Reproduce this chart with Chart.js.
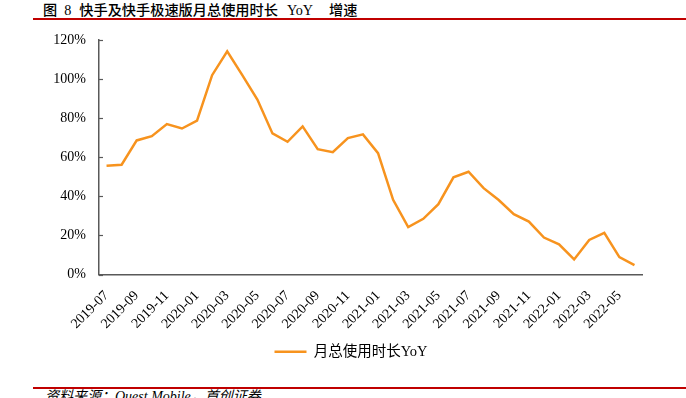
<!DOCTYPE html>
<html>
<head>
<meta charset="utf-8">
<script src="https://cdn.jsdelivr.net/npm/chart.js@4"></script>
<style>
  html, body { margin: 0; padding: 0; background: #fff; }
  body { width: 686px; height: 398px; overflow: hidden; position: relative; }
  #title { position: absolute; left: 43px; top: 1px; font-family: "Noto Sans CJK SC", sans-serif; font-weight: 500; font-size: 14.2px; line-height: 17px; color: #000; white-space: nowrap; }
  #title span { display: inline-block; }
  #title .s { font-family: "Liberation Serif", serif; font-weight: normal; }
  .rule { position: absolute; left: 33px; width: 653px; height: 2px; background: #C00000; }
  #source { position: absolute; left: 45px; top: 388px; font-family: "Liberation Serif", "Noto Sans CJK SC", serif; font-style: italic; font-size: 14px; line-height: 17px; color: #000; white-space: pre; }
  #wrap { position: absolute; left: 0; top: 0; width: 686px; height: 398px; }
</style>
</head>
<body>
<div id="title"><span style="margin-right:7px">图</span><span class="s" style="margin-right:8px">8</span><span style="margin-right:9px">快手及快手极速版月总使用时长</span><span class="s" style="margin-right:16px">YoY</span><span>增速</span></div>
<div class="rule" style="top:18px"></div>
<div class="rule" style="top:387px"></div>
<div id="source">资料来源：Quest Mobile，首创证券</div>
<div id="wrap"><canvas id="c" width="686" height="398"></canvas></div>
<script>
const months = [
  '2019-07','2019-08','2019-09','2019-10','2019-11','2019-12',
  '2020-01','2020-02','2020-03','2020-04','2020-05','2020-06',
  '2020-07','2020-08','2020-09','2020-10','2020-11','2020-12',
  '2021-01','2021-02','2021-03','2021-04','2021-05','2021-06',
  '2021-07','2021-08','2021-09','2021-10','2021-11','2021-12',
  '2022-01','2022-02','2022-03','2022-04','2022-05','2022-06'
];
const yoyValues = [
  55.7, 56.2, 68.6, 70.8, 77.0, 74.7,
  78.7, 102.0, 114.2, 102.0, 89.5, 72.2,
  67.9, 75.8, 64.1, 62.6, 69.8, 71.7,
  62.1, 38.2, 24.3, 28.5, 36.0, 49.7,
  52.6, 44.2, 38.1, 30.9, 27.1, 18.9,
  15.4, 7.7, 17.7, 21.3, 8.9, 4.8
];
const seriesName = '月总使用时长YoY';
const yTicks = [0, 20, 40, 60, 80, 100, 120];

const serif = '"Liberation Serif", "Noto Sans CJK SC", serif';
Chart.defaults.font.family = serif;
Chart.defaults.color = '#000';

const innerTicks = {
  id: 'innerTicks',
  afterDraw(chart) {
    const ys = chart.scales.y;
    const ctx = chart.ctx;
    const left = chart.chartArea.left;
    ctx.save();
    ctx.strokeStyle = '#595959';
    ctx.lineWidth = 1.2;
    ys.ticks.forEach(t => {
      const y = Math.round(ys.getPixelForValue(t.value)) + 0.5;
      ctx.beginPath();
      ctx.moveTo(left, y);
      ctx.lineTo(left + 4, y);
      ctx.stroke();
    });
    ctx.restore();
  }
};

const legendShift = {
  id: 'legendShift',
  afterLayout(chart) {
    const l = chart.legend;
    if (l) { l.left += 10; l.right += 10; }
  }
};

new Chart(document.getElementById('c'), {
  type: 'line',
  data: {
    labels: months,
    datasets: [{
      label: seriesName,
      data: yoyValues,
      borderColor: '#F7931E',
      backgroundColor: '#F7931E',
      borderWidth: 2.5,
      pointRadius: 0,
      pointHoverRadius: 0,
      tension: 0,
      fill: false
    }]
  },
  options: {
    responsive: false,
    animation: false,
    devicePixelRatio: 1,
    layout: { padding: { top: 40, left: 40, right: 44, bottom: 29 } },
    plugins: {
      tooltip: { enabled: false },
      legend: {
        position: 'bottom',
        labels: {
          usePointStyle: true,
          pointStyle: 'line',
          pointStyleWidth: 32,
          boxHeight: 13,
          font: { size: 14.5, family: serif },
          color: '#000',
          padding: 10
        }
      }
    },
    scales: {
      x: {
        type: 'category',
        offset: true,
        grid: { display: true, drawOnChartArea: false, drawTicks: false },
        border: { display: true, color: '#595959', width: 1.5 },
        ticks: {
          autoSkip: false,
          maxRotation: 45,
          minRotation: 45,
          padding: 13,
          font: { size: 14, family: serif },
          color: '#000',
          callback: (v, i) => (i % 2 === 0 ? months[i] : '')
        },
        afterFit: s => { s.height = 60; }
      },
      y: {
        min: 0,
        max: 120,
        afterBuildTicks: s => { s.ticks = yTicks.map(v => ({ value: v })); },
        grid: { display: true, drawOnChartArea: false, drawTicks: false },
        border: { display: true, color: '#595959', width: 1.5 },
        ticks: {
          padding: 13,
          font: { size: 14, family: serif },
          color: '#000',
          callback: v => v + '%'
        },
        afterFit: s => { s.width = 59; }
      }
    }
  },
  plugins: [innerTicks, legendShift]
});
</script>
</body>
</html>
